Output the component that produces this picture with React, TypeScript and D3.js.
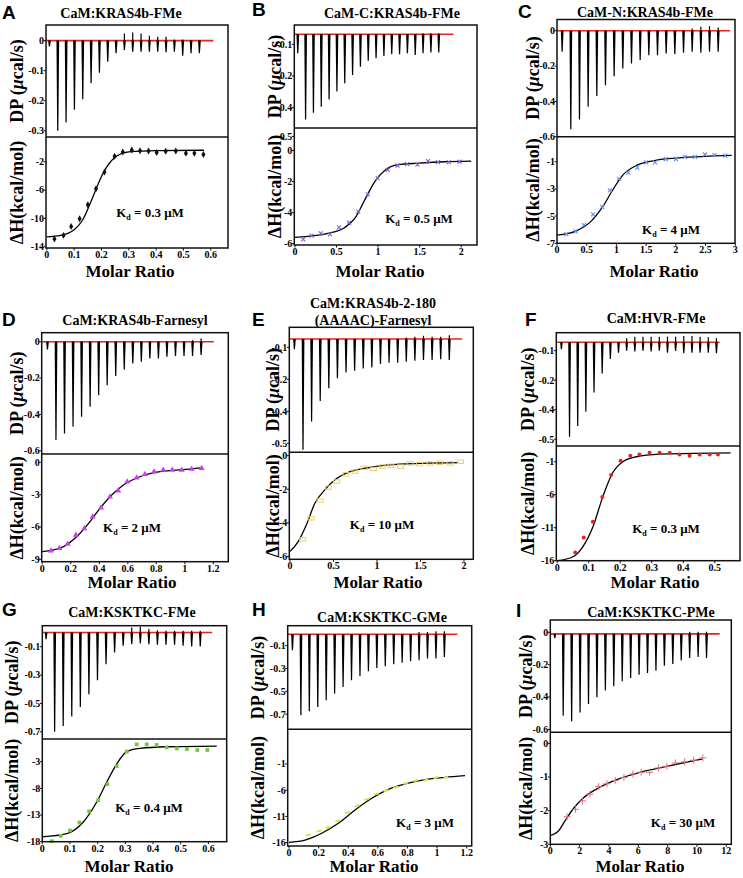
import React from "react";
import * as d3 from "d3";

// ================= DATA =================
// Panel A  CaM:KRAS4b-FMe
const aDpDown = [-0.02, -0.3, -0.273, -0.23, -0.195, -0.142, -0.107, -0.07, -0.042, -0.031, -0.037, -0.037, -0.037, -0.037, -0.039, -0.037, -0.05, -0.042, -0.042];
const aDpUp = [0, 0, 0, 0, 0, 0, 0, 0, 0, 0.024, 0.027, 0.024, 0.016, 0.013, 0.013, 0.004, 0.004, 0.002, 0.002];
const aRatio = [0.028, 0.061, 0.089, 0.12, 0.15, 0.18, 0.211, 0.248, 0.278, 0.311, 0.341, 0.372, 0.402, 0.435, 0.472, 0.509, 0.54, 0.573];
const aDH = [-12.9, -12.4, -11.15, -10.05, -8.07, -5.82, -3.47, -1.22, -0.62, -0.34, -0.44, -0.48, -0.71, -0.53, -0.48, -0.8, -0.8, -0.99];
const aFitRatio = [0, 0.05, 0.1, 0.13, 0.165, 0.195, 0.22, 0.256, 0.3, 0.4, 0.575];
const aFitDH = [-12.6, -12.4, -11.6, -10.3, -7.3, -4.5, -2.7, -1.2, -0.62, -0.42, -0.38];
const aDpTicks = [0, -0.1, -0.2, -0.3];
const aDpTickLabels = ["0", "-0.1", "-0.2", "-0.3"];
const aDhTicks = [-2, -6, -10, -14];
const aDhTickLabels = ["-2", "-6", "-10", "-14"];
const aXTicks = [0, 0.1, 0.2, 0.3, 0.4, 0.5, 0.6];

// Panel B  CaM-C:KRAS4b-FMe
const bDpDown = [-0.128, -0.337, -0.316, -0.297, -0.274, -0.249, -0.223, -0.197, -0.171, -0.152, -0.144, -0.137, -0.131, -0.131, -0.128, -0.134, -0.128, -0.126, -0.126];
const bDpUp = [0, 0, 0, 0, 0, 0, 0, 0, 0, 0, 0, 0, 0, 0, 0, 0, 0.003, 0.003, 0.003];
const bRatio = [0.1, 0.2, 0.31, 0.42, 0.53, 0.65, 0.76, 0.876, 0.996, 1.116, 1.233, 1.35, 1.474, 1.6, 1.72, 1.85, 1.98];
const bDH = [-5.72, -5.48, -5.33, -5.4, -4.95, -4.65, -3.94, -2.82, -1.78, -1.25, -0.97, -0.88, -0.92, -0.69, -0.75, -0.75, -0.73];
const bFitRatio = [0, 0.4, 0.6, 0.72, 0.84, 0.96, 1.08, 1.24, 1.49, 1.8, 2.12];
const bFitDH = [-5.59, -5.33, -4.95, -4.37, -3.18, -2.0, -1.29, -0.92, -0.82, -0.73, -0.69];
const bDpTicks = [-0.1, -0.2, -0.3];
const bDpTickLabels = ["-0.1", "-0.2", "-0.4"];
const bDhTicks = [0.9, 0, -2, -4, -6];
const bDhTickLabels = ["-0.5", "0", "-2", "-4", "-6"];
const bXTicks = [0, 0.5, 1, 1.5, 2];

// Panel C  CaM-N:KRAS4b-FMe
const cDpDown = [-0.119, -0.558, -0.502, -0.43, -0.37, -0.308, -0.257, -0.213, -0.185, -0.166, -0.138, -0.138, -0.128, -0.132, -0.125, -0.119, -0.125, -0.119, -0.119];
const cDpUp = [0, 0, 0, 0, 0, 0, 0, 0, 0, 0, 0, 0, 0, 0, 0, 0.013, 0.023, 0.026, 0.019];
const cRatio = [0.157, 0.31, 0.455, 0.607, 0.76, 0.89, 1.04, 1.2, 1.35, 1.5, 1.65, 1.83, 2.0, 2.15, 2.32, 2.49, 2.65, 2.83];
const cDH = [-6.33, -6.13, -5.67, -4.87, -4.32, -3.1, -2.26, -1.8, -1.44, -1.05, -1.05, -0.8, -0.8, -0.64, -0.64, -0.47, -0.52, -0.56];
const cFitRatio = [0, 0.33, 0.55, 0.775, 0.94, 1.11, 1.33, 1.62, 2.0, 2.57, 2.94];
const cFitDH = [-6.4, -6.08, -5.48, -4.27, -3.06, -1.97, -1.29, -0.93, -0.73, -0.59, -0.54];
const cDpTicks = [0, -0.2, -0.4, -0.6];
const cDpTickLabels = ["0", "-0.2", "-0.4", "-0.6"];
const cDhTicks = [-1, -3, -5, -7];
const cDhTickLabels = ["-1", "-3", "-5", "-7"];
const cXTicks = [0, 0.5, 1, 1.5, 2, 2.5, 3];

// Panel D  CaM:KRAS4b-Farnesyl
const dDpDown = [-0.042, -0.541, -0.505, -0.468, -0.413, -0.358, -0.294, -0.239, -0.189, -0.152, -0.119, -0.11, -0.092, -0.092, -0.083, -0.079, -0.079, -0.079, -0.073];
const dDpUp = [0, 0, 0, 0, 0, 0, 0, 0, 0, 0, 0, 0, 0, 0, 0, 0, 0, 0.009, 0.018];
const dRatio = [0.061, 0.12, 0.178, 0.236, 0.295, 0.353, 0.412, 0.475, 0.533, 0.596, 0.662, 0.72, 0.784, 0.849, 0.912, 0.978, 1.048, 1.118];
const dDH = [-8.2, -7.98, -7.58, -6.75, -6.13, -5.05, -4.22, -3.2, -2.64, -1.8, -1.43, -1.11, -0.87, -0.71, -0.71, -0.71, -0.62, -0.56];
const dFitRatio = [0, 0.124, 0.241, 0.335, 0.405, 0.475, 0.569, 0.685, 0.826, 1.013, 1.125];
const dFitDH = [-8.28, -7.97, -6.9, -5.5, -4.27, -3.2, -2.1, -1.34, -0.87, -0.66, -0.5];
const dDpTicks = [0, -0.2, -0.4, -0.6];
const dDpTickLabels = ["0", "-0.2", "-0.4", "-0.6"];
const dDhTicks = [0, -3, -6, -9];
const dDhTickLabels = ["0", "-3", "-6", "-9"];
const dXTicks = [0, 0.2, 0.4, 0.6, 0.8, 1, 1.2];

// Panel E  CaM:KRAS4b-2-180 (AAAAC)-Farnesyl
const eDpDown = [-0.106, -0.42, -0.332, -0.268, -0.228, -0.197, -0.179, -0.173, -0.166, -0.163, -0.152, -0.148, -0.148, -0.145, -0.142, -0.14, -0.14, -0.1375, -0.14];
const eDpUp = [0, 0, 0, 0, 0, 0, 0, 0, 0, 0, 0, 0, 0, 0.005, 0.007, 0.01, 0.007, 0.007, 0.012];
const eRatio = [0.146, 0.241, 0.345, 0.44, 0.536, 0.644, 0.747, 0.85, 0.958, 1.06, 1.16, 1.27, 1.38, 1.49, 1.61, 1.72, 1.84, 1.96];
const eDH = [-4.98, -3.73, -2.67, -1.9, -1.54, -1.11, -0.95, -0.71, -0.79, -0.65, -0.6, -0.65, -0.46, -0.5, -0.46, -0.42, -0.46, -0.36];
const eFitRatio = [0, 0.096, 0.19, 0.287, 0.4, 0.517, 0.67, 0.862, 1.13, 1.51, 1.935];
const eFitDH = [-5.7, -5.1, -4.1, -2.82, -2.04, -1.44, -1.0, -0.75, -0.55, -0.46, -0.42];
const eDpTicks = [-0.1, -0.2, -0.3, -0.4];
const eDpTickLabels = ["-0.1", "-0.2", "-0.4", "-0.5"];
const eDhTicks = [0, -2, -4, -6];
const eDhTickLabels = ["0", "-2", "-4", "-6"];
const eXTicks = [0, 0.5, 1, 1.5, 2];

// Panel F  CaM:HVR-FMe
const fDpDown = [-0.095, -0.392, -0.355, -0.307, -0.242, -0.177, -0.128, -0.107, -0.1, -0.103, -0.1, -0.103, -0.1, -0.107, -0.101, -0.109, -0.107, -0.107, -0.107, -0.109];
const fDpUp = [0, 0, 0, 0, 0, 0, 0, 0, 0.014, 0.019, 0.019, 0.019, 0.019, 0.019, 0.019, 0.021, 0.021, 0.019, 0.017, 0.014];
const fRatio = [0.057, 0.084, 0.113, 0.143, 0.171, 0.201, 0.232, 0.261, 0.293, 0.325, 0.357, 0.388, 0.42, 0.452, 0.484, 0.51];
const fDH = [-14.75, -12.5, -10.1, -6.35, -3.0, -0.85, -0.1, 0.1, 0.35, 0.35, 0.35, 0.1, -0.1, 0.1, 0.1, 0.1];
const fFitRatio = [0, 0.05, 0.081, 0.113, 0.145, 0.175, 0.208, 0.25, 0.325, 0.43, 0.55];
const fFitDH = [-16, -15.4, -13.9, -10.9, -6.25, -2.75, -1.0, -0.25, 0.15, 0.25, 0.35];
const fDpTicks = [-0.1, -0.2, -0.3, -0.4];
const fDpTickLabels = ["-0.1", "-0.2", "-0.4", "-0.5"];
const fDhTicks = [-1, -6, -11, -16];
const fDhTickLabels = ["-1", "-6", "-11", "-16"];
const fXTicks = [0, 0.1, 0.2, 0.3, 0.4, 0.5];

// Panel G  CaM:KSKTKC-FMe
const gDpDown = [-0.047, -0.7, -0.66, -0.593, -0.525, -0.435, -0.336, -0.224, -0.141, -0.094, -0.082, -0.078, -0.082, -0.087, -0.087, -0.087, -0.094, -0.099, -0.099];
const gDpUp = [0, 0, 0, 0, 0, 0, 0, 0, 0, 0, 0.035, 0.04, 0.024, 0.016, 0.012, 0.012, 0.012, 0.012, 0.012];
const gRatio = [0.034, 0.067, 0.1, 0.134, 0.169, 0.202, 0.235, 0.269, 0.305, 0.341, 0.377, 0.413, 0.449, 0.486, 0.522, 0.56, 0.596];
const gDH = [-17.9, -16.9, -15.9, -14.4, -12.3, -10.2, -7.2, -3.8, -1.1, 0.25, 0.25, 0.13, -0.31, -0.5, -0.63, -0.81, -0.81];
const gFitRatio = [0, 0.088, 0.148, 0.196, 0.233, 0.269, 0.305, 0.353, 0.449, 0.63];
const gFitDH = [-17.1, -16.5, -14.3, -10.6, -6.8, -3.4, -1.1, -0.5, -0.19, -0.06];
const gDpTicks = [-0.1, -0.3, -0.5, -0.7];
const gDpTickLabels = ["-0.1", "-0.3", "-0.5", "-0.7"];
const gDhTicks = [-3, -8, -13, -18];
const gDhTickLabels = ["-3", "-8", "-13", "-18"];
const gXTicks = [0, 0.1, 0.2, 0.3, 0.4, 0.5, 0.6];

// Panel H  CaM:KSKTKC-GMe
const hDpDown = [-0.14, -0.71, -0.675, -0.637, -0.579, -0.52, -0.462, -0.404, -0.365, -0.325, -0.295, -0.28, -0.263, -0.249, -0.237, -0.228, -0.213, -0.213, -0.199];
const hDpUp = [0, 0, 0, 0, 0, 0, 0, 0, 0, 0, 0, 0, 0, 0, 0, 0.02, 0.02, 0.026, 0.026];
const hRatio = [0.13, 0.203, 0.266, 0.329, 0.394, 0.462, 0.525, 0.592, 0.655, 0.72, 0.788, 0.856, 0.923, 0.993, 1.059];
const hDH = [-14.53, -13.77, -13.07, -11.86, -10.28, -8.94, -7.73, -6.72, -6.08, -5.45, -4.68, -4.18, -4.05, -3.6, -3.6];
const hFitRatio = [0, 0.108, 0.221, 0.333, 0.446, 0.559, 0.671, 0.784, 0.919, 1.054, 1.189];
const hFitDH = [-15.93, -15.49, -14.2, -12.3, -9.77, -7.54, -5.83, -4.81, -3.99, -3.54, -3.22];
const hDpTicks = [-0.1, -0.3, -0.5, -0.7];
const hDpTickLabels = ["-0.1", "-0.3", "-0.5", "-0.7"];
const hDhTicks = [-1, -6, -11, -16];
const hDhTickLabels = ["-1", "-6", "-11", "-16"];
const hXTicks = [0, 0.2, 0.4, 0.6, 0.8, 1, 1.2];

// Panel I  CaM:KSKTKC-PMe
const iDpDown = [-0.037, -0.515, -0.55, -0.495, -0.443, -0.402, -0.36, -0.334, -0.303, -0.282, -0.262, -0.251, -0.237, -0.206, -0.196, -0.175, -0.159, -0.153, -0.159];
const iDpUp = [0, 0, 0, 0, 0, 0, 0, 0, 0, 0, 0, 0, 0, 0, 0, 0, 0.014, 0.014, 0.014];
const iRatio = [1.14, 1.72, 2.2, 2.7, 3.3, 3.86, 4.43, 5.02, 5.63, 6.2, 6.77, 7.38, 7.95, 8.52, 9.16, 9.77, 10.4];
const iDH = [-2.18, -1.96, -1.71, -1.51, -1.28, -1.2, -1.1, -1.01, -0.91, -0.86, -0.86, -0.73, -0.68, -0.58, -0.55, -0.5, -0.43];
const iFitRatio = [0, 0.52, 0.98, 1.55, 2.23, 3.14, 4.27, 5.64, 7.0, 8.6, 10.4];
const iFitDH = [-2.74, -2.62, -2.32, -1.95, -1.63, -1.36, -1.12, -0.92, -0.77, -0.62, -0.46];
const iDpTicks = [0, -0.2, -0.4, -0.6];
const iDpTickLabels = ["0", "-0.2", "-0.4", "-0.6"];
const iDhTicks = [0, -1, -2, -3];
const iDhTickLabels = ["0", "-1", "-2", "-3"];
const iXTicks = [0, 2, 4, 6, 8, 10, 12];

// ================= LAYOUT =================
const panels = [
  { letter: "A", letterPos: [2, 19], title: ["CaM:KRAS4b-FMe"], titlePos: [121, 18],
    box: { l: 46, r: 228, t: 25, m: 137, b: 248 }, dpDomain: [-0.321, 0.052], baseline: 0,
    tDomain: [-0.4, 21.45], baseEnd: 19.7, dhDomain: [-14.18, 1.49], xDomain: [-0.003, 0.663],
    down: aDpDown, up: aDpUp, ratio: aRatio, dh: aDH, fitR: aFitRatio, fitD: aFitDH,
    dpTicks: aDpTicks, dpLabels: aDpTickLabels, dhTicks: aDhTicks, dhLabels: aDhTickLabels, xTicks: aXTicks,
    marker: "diamond", color: "#111", kd: "0.3", kdPos: [150, 217], yLabX: 17, molar: [130, 277] },
  { letter: "B", letterPos: [252, 16], title: ["CaM-C:KRAS4b-FMe"], titlePos: [392, 18],
    box: { l: 294.3, r: 477, t: 25, m: 128, b: 245 }, dpDomain: [-0.364, -0.039], baseline: -0.068,
    tDomain: [-0.43, 22.9], baseEnd: 19.9, dhDomain: [-6.08, 1.44], xDomain: [-0.008, 2.19],
    down: bDpDown, up: bDpUp, ratio: bRatio, dh: bDH, fitR: bFitRatio, fitD: bFitDH,
    dpTicks: bDpTicks, dpLabels: bDpTickLabels, dhTicks: bDhTicks, dhLabels: bDhTickLabels, xTicks: bXTicks,
    marker: "x", color: "#8a5fd6", kd: "0.5", kdPos: [419, 223], yLabX: 275, molar: [380, 277] },
  { letter: "C", letterPos: [518, 18], title: ["CaM-N:KRAS4b-FMe"], titlePos: [645, 17],
    box: { l: 557, r: 735, t: 19.5, m: 136.7, b: 243.3 }, dpDomain: [-0.6, 0.064], baseline: 0,
    tDomain: [-0.58, 19.95], baseEnd: 19.4, dhDomain: [-7, 0.84], xDomain: [0, 2.995],
    down: cDpDown, up: cDpUp, ratio: cRatio, dh: cDH, fitR: cFitRatio, fitD: cFitDH,
    dpTicks: cDpTicks, dpLabels: cDpTickLabels, dhTicks: cDhTicks, dhLabels: cDhTickLabels, xTicks: cXTicks,
    marker: "x", color: "#5b8ff0", kd: "4", kdPos: [671, 234], yLabX: 533, molar: [654, 277] },
  { letter: "D", letterPos: [2, 326], title: ["CaM:KRAS4b-Farnesyl"], titlePos: [135, 325],
    box: { l: 41.7, r: 228.3, t: 332.7, m: 454, b: 561.7 }, dpDomain: [-0.618, 0.05], baseline: 0,
    tDomain: [-0.66, 21.2], baseEnd: 19.5, dhDomain: [-9.22, 0.77], xDomain: [-0.004, 1.305],
    down: dDpDown, up: dDpUp, ratio: dRatio, dh: dDH, fitR: dFitRatio, fitD: dFitDH,
    dpTicks: dDpTicks, dpLabels: dDpTickLabels, dhTicks: dDhTicks, dhLabels: dDhTickLabels, xTicks: dXTicks,
    marker: "triangle", color: "#cc3cf0", kd: "2", kdPos: [132, 532], yLabX: 17, molar: [132, 588] },
  { letter: "E", letterPos: [252, 326], title: ["CaM:KRAS4b-2-180", "(AAAAC)-Farnesyl"], titlePos: [373, 308],
    box: { l: 289.3, r: 473.3, t: 327.3, m: 452.3, b: 559.3 }, dpDomain: [-0.428, -0.0375], baseline: -0.074,
    tDomain: [-0.58, 20.8], baseEnd: 19.5, dhDomain: [-6.17, 0.2], xDomain: [-0.008, 2.107],
    down: eDpDown, up: eDpUp, ratio: eRatio, dh: eDH, fitR: eFitRatio, fitD: eFitDH,
    dpTicks: eDpTicks, dpLabels: eDpTickLabels, dhTicks: eDhTicks, dhLabels: eDhTickLabels, xTicks: eXTicks,
    marker: "openrect", color: "#f0d060", kd: "10", kdPos: [382, 529], yLabX: 273, molar: [378, 588] },
  { letter: "F", letterPos: [525, 326], title: ["CaM:HVR-FMe"], titlePos: [656, 323],
    box: { l: 556.3, r: 740, t: 332.7, m: 446, b: 560.7 }, dpDomain: [-0.423, -0.039], baseline: -0.0715,
    tDomain: [-0.61, 21.9], baseEnd: 19.4, dhDomain: [-16, 1.38], xDomain: [-0.003, 0.58],
    down: fDpDown, up: fDpUp, ratio: fRatio, dh: fDH, fitR: fFitRatio, fitD: fFitDH,
    dpTicks: fDpTicks, dpLabels: fDpTickLabels, dhTicks: fDhTicks, dhLabels: fDhTickLabels, xTicks: fXTicks,
    marker: "circle", color: "#e8231e", kd: "0.3", kdPos: [666, 533], yLabX: 528, molar: [655, 588] },
  { letter: "G", letterPos: [2, 616], title: ["CaM:KSKTKC-FMe"], titlePos: [132, 617],
    box: { l: 42.3, r: 226.7, t: 625.7, m: 739, b: 841.7 }, dpDomain: [-0.751, 0.048], baseline: 0,
    tDomain: [-0.43, 21.1], baseEnd: 19.4, dhDomain: [-18, 1.26], xDomain: [0, 0.666],
    down: gDpDown, up: gDpUp, ratio: gRatio, dh: gDH, fitR: gFitRatio, fitD: gFitDH,
    dpTicks: gDpTicks, dpLabels: gDpTickLabels, dhTicks: gDhTicks, dhLabels: gDhTickLabels, xTicks: gXTicks,
    marker: "square", color: "#72c83c", kd: "0.4", kdPos: [149, 812], yLabX: 12, molar: [129, 872] },
  { letter: "H", letterPos: [252, 616], title: ["CaM:KSKTKC-GMe"], titlePos: [382, 622],
    box: { l: 287.7, r: 471.7, t: 625.7, m: 729.3, b: 846 }, dpDomain: [-0.833, 0.075], baseline: 0,
    tDomain: [-0.55, 21.25], baseEnd: 19.55, dhDomain: [-16.63, 5.61], xDomain: [-0.009, 1.234],
    down: hDpDown, up: hDpUp, ratio: hRatio, dh: hDH, fitR: hFitRatio, fitD: hFitDH,
    dpTicks: hDpTicks, dpLabels: hDpTickLabels, dhTicks: hDhTicks, dhLabels: hDhTickLabels, xTicks: hXTicks,
    marker: "dash", color: "#dde03a", kd: "3", kdPos: [425, 827], yLabX: 258, molar: [374, 872] },
  { letter: "I", letterPos: [516, 617], title: ["CaM:KSKTKC-PMe"], titlePos: [651, 617],
    box: { l: 550.3, r: 731.3, t: 620, m: 732.3, b: 844.3 }, dpDomain: [-0.618, 0.076], baseline: -0.01,
    tDomain: [-0.52, 20.95], baseEnd: 19.57, dhDomain: [-3, 0.33], xDomain: [0, 12.34],
    down: iDpDown, up: iDpUp, ratio: iRatio, dh: iDH, fitR: iFitRatio, fitD: iFitDH,
    dpTicks: iDpTicks, dpLabels: iDpTickLabels, dhTicks: iDhTicks, dhLabels: iDhTickLabels, xTicks: iXTicks,
    marker: "plus", color: "#e8707e", kd: "30", kdPos: [683, 827], yLabX: 526, molar: [640, 872] },
];

const SERIF = "'Liberation Serif', 'Times New Roman', Times, serif";
const SANS = "'Liberation Sans', Arial, Helvetica, sans-serif";

function Marker({ type, cx, cy, color }: any) {
  const tr = `translate(${cx},${cy})`;
  switch (type) {
    case "diamond":
      return <path transform={tr} d={d3.symbol(d3.symbolDiamond, 14)() as string} fill={color} />;
    case "triangle":
      return <path transform={tr} d={d3.symbol(d3.symbolTriangle, 16)() as string} fill={color} />;
    case "square":
      return <path transform={tr} d={d3.symbol(d3.symbolSquare, 14)() as string} fill={color} />;
    case "circle":
      return <circle cx={cx} cy={cy} r={2} fill={color} />;
    case "openrect":
      return <rect x={cx - 3} y={cy - 1.7} width={6} height={3.4} fill="none" stroke={color} strokeWidth={1} />;
    case "dash":
      return <rect x={cx - 2.5} y={cy - 1} width={5} height={2} fill={color} transform={`rotate(-15,${cx},${cy})`} />;
    case "plus":
      return (
        <g stroke={color} strokeWidth={1}>
          <line x1={cx - 3.5} x2={cx + 3.5} y1={cy} y2={cy} />
          <line x1={cx} x2={cx} y1={cy - 3.5} y2={cy + 3.5} />
        </g>
      );
    default:
      return (
        <g stroke={color} strokeWidth={1.1}>
          <line x1={cx - 2} x2={cx + 2} y1={cy - 2} y2={cy + 2} />
          <line x1={cx - 2} x2={cx + 2} y1={cy + 2} y2={cy - 2} />
        </g>
      );
  }
}

function Panel({ p }: any) {
  const { box } = p;
  const yTop = d3.scaleLinear().domain(p.dpDomain).range([box.m, box.t]);
  const yBot = d3.scaleLinear().domain(p.dhDomain).range([box.b, box.m]);
  const x = d3.scaleLinear().domain(p.xDomain).range([box.l, box.r]);
  const t = d3.scaleLinear().domain(p.tDomain).range([box.l, box.r]);
  const yb = yTop(p.baseline);
  const fitPts: [number, number][] = p.fitR.map((r: number, i: number) => [r, p.fitD[i]]);
  const line = d3
    .line<[number, number]>()
    .x((d) => x(d[0]))
    .y((d) => yBot(d[1]))
    .curve(d3.curveMonotoneX);
  const tick = 2.5;
  const tickFont = 10;
  return (
    <g>
      <text x={p.letterPos[0]} y={p.letterPos[1]} fontFamily={SANS} fontWeight="bold" fontSize={19}>
        {p.letter}
      </text>
      {p.title.map((s: string, i: number) => (
        <text key={i} x={p.titlePos[0]} y={p.titlePos[1] + i * 16.5} textAnchor="middle" fontFamily={SERIF} fontWeight="bold" fontSize={14}>
          {s}
        </text>
      ))}
      {/* baseline */}
      <line x1={box.l} x2={t(p.baseEnd)} y1={yb} y2={yb} stroke="#e8231e" strokeWidth={1.6} />
      {/* injection peaks */}
      {p.down.map((v: number, i: number) => {
        const cx = t(i);
        const yp = Math.min(yTop(v), box.m);
        return (
          <path key={"d" + i} d={`M${cx - 1.2},${yb} L${cx - 0.5},${yp} L${cx + 0.7},${yp} L${cx + 1.5},${yb} Z`} fill="#000" />
        );
      })}
      {p.up.map((v: number, i: number) =>
        v > 0 ? <line key={"u" + i} x1={t(i) + 0.1} x2={t(i) + 0.1} y1={yb} y2={yTop(p.baseline + v)} stroke="#000" strokeWidth={1.2} /> : null
      )}
      {/* fit curve */}
      <path d={line(fitPts) as string} fill="none" stroke="#000" strokeWidth={1.3} />
      {/* data points */}
      {p.ratio.map((r: number, i: number) => (
        <Marker key={"m" + i} type={p.marker} cx={x(r)} cy={yBot(p.dh[i])} color={p.color} />
      ))}
      {/* frame */}
      <rect x={box.l} y={box.t} width={box.r - box.l} height={box.b - box.t} fill="none" stroke="#111" strokeWidth={1.5} />
      <line x1={box.l} x2={box.r} y1={box.m} y2={box.m} stroke="#111" strokeWidth={1.5} />
      {/* DP ticks */}
      {p.dpTicks.map((v: number, i: number) => (
        <g key={"dt" + i}>
          <line x1={box.l - tick} x2={box.l} y1={yTop(v)} y2={yTop(v)} stroke="#111" strokeWidth={1} />
          <text x={box.l - 2} y={yTop(v) + 3.4} textAnchor="end" fontFamily={SERIF} fontWeight="bold" fontSize={tickFont}>
            {p.dpLabels[i]}
          </text>
        </g>
      ))}
      {/* DH ticks */}
      {p.dhTicks.map((v: number, i: number) => (
        <g key={"ht" + i}>
          <line x1={box.l - tick} x2={box.l} y1={yBot(v)} y2={yBot(v)} stroke="#111" strokeWidth={1} />
          <text x={box.l - 2} y={yBot(v) + 3.4} textAnchor="end" fontFamily={SERIF} fontWeight="bold" fontSize={tickFont}>
            {p.dhLabels[i]}
          </text>
        </g>
      ))}
      {/* x ticks */}
      {p.xTicks.map((v: number, i: number) => (
        <g key={"xt" + i}>
          <line x1={x(v)} x2={x(v)} y1={box.b} y2={box.b + tick} stroke="#111" strokeWidth={1} />
          <text x={x(v)} y={box.b + 10} textAnchor="middle" fontFamily={SERIF} fontWeight="bold" fontSize={tickFont}>
            {String(v)}
          </text>
        </g>
      ))}
      {/* axis titles */}
      <text
        transform={`translate(${p.yLabX},${(box.t + box.m) / 2}) rotate(-90)`}
        textAnchor="middle"
        dominantBaseline="central"
        fontFamily={SERIF}
        fontWeight="bold"
        fontSize={18}
      >
        DP (<tspan fontStyle="italic">μ</tspan>cal/s)
      </text>
      <text
        transform={`translate(${p.yLabX},${(box.m + box.b) / 2}) rotate(-90)`}
        textAnchor="middle"
        dominantBaseline="central"
        fontFamily={SERIF}
        fontWeight="bold"
        fontSize={18}
      >
        ΔH(kcal/mol)
      </text>
      <text x={p.molar[0]} y={p.molar[1]} textAnchor="middle" fontFamily={SERIF} fontWeight="bold" fontSize={17}>
        Molar Ratio
      </text>
      <text x={p.kdPos[0]} y={p.kdPos[1]} textAnchor="middle" fontFamily={SERIF} fontWeight="bold" fontSize={13}>
        K<tspan fontSize={8} dy={3}>d</tspan>
        <tspan dy={-3}>{" = " + p.kd + " μM"}</tspan>
      </text>
    </g>
  );
}

export default function App() {
  return (
    <svg
      width={743}
      height={878}
      viewBox="0 0 743 878"
      style={{ position: "absolute", left: 0, top: 0, background: "#fff", display: "block" }}
    >
      <rect x={0} y={0} width={743} height={878} fill="#fff" />
      {panels.map((p, i) => (
        <Panel key={i} p={p} />
      ))}
    </svg>
  );
}
